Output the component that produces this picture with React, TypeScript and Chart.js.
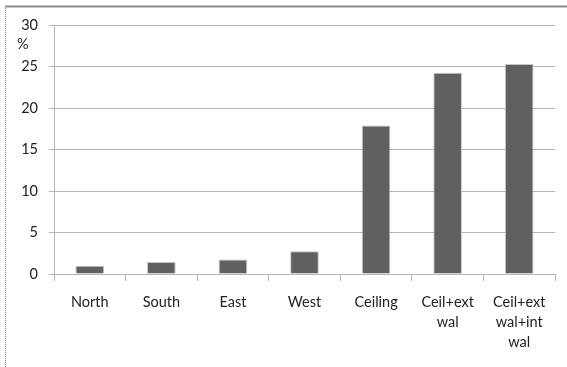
import React, { useEffect, useRef } from "react";
import { Chart, registerables } from "chart.js";

Chart.register(...registerables);

const categories: (string | string[])[] = [
  "North",
  "South",
  "East",
  "West",
  "Ceiling",
  ["Ceil+ext", "wal"],
  ["Ceil+ext", "wal+int", "wal"],
];
const percentValues = [1.0, 1.45, 1.75, 2.75, 17.9, 24.25, 25.3];
const yTicks = [0, 5, 10, 15, 20, 25, 30];

const FONT = "Lato, 'Liberation Sans', sans-serif";
const GRID = "#b4b4b4";

// Frame lines along the top and left edge plus the "%" unit label
const framePlugin = {
  id: "frame",
  beforeDraw(chart: Chart) {
    const ctx = chart.ctx;
    ctx.save();
    ctx.strokeStyle = "#8a8a8a";
    ctx.lineWidth = 2;
    ctx.beginPath();
    ctx.moveTo(5, 6.5);
    ctx.lineTo(chart.width, 6.5);
    ctx.stroke();
    ctx.lineWidth = 1;
    ctx.setLineDash([1, 1]);
    ctx.strokeStyle = "#8a8a8a";
    ctx.beginPath();
    ctx.moveTo(5.5, 6);
    ctx.lineTo(5.5, chart.height);
    ctx.stroke();
    ctx.restore();
  },
  afterDraw(chart: Chart) {
    const ctx = chart.ctx;
    ctx.save();
    ctx.fillStyle = "#222";
    ctx.font = `14.5px ${FONT}`;
    ctx.textAlign = "left";
    ctx.textBaseline = "middle";
    ctx.fillText("%", 17, 44);
    ctx.restore();
  },
};

export default function App() {
  const canvasRef = useRef<HTMLCanvasElement | null>(null);

  useEffect(() => {
    document.body.style.margin = "0";
    const canvas = canvasRef.current;
    if (!canvas) return;
    const chart = new Chart(canvas, {
      type: "bar",
      data: {
        labels: categories,
        datasets: [
          {
            data: percentValues,
            backgroundColor: "#606060",
            borderColor: "#c4c4c4",
            borderWidth: 1,
            categoryPercentage: 1,
            barPercentage: 0.4,
          },
        ],
      },
      options: {
        animation: false,
        responsive: false,
        maintainAspectRatio: false,
        events: [],
        layout: { padding: { top: 25, right: 12, left: 0, bottom: 0 } },
        plugins: {
          legend: { display: false },
          tooltip: { enabled: false },
        },
        scales: {
          x: {
            offset: true,
            grid: {
              offset: true,
              drawOnChartArea: false,
              drawTicks: true,
              tickLength: 7,
              color: GRID,
            },
            border: { display: true, color: GRID },
            ticks: {
              color: "#222",
              font: { family: FONT, size: 14.5, lineHeight: 1.38 },
              padding: 11,
              maxRotation: 0,
              autoSkip: false,
            },
            afterFit(scale: any) {
              scale.height = 93;
            },
          },
          y: {
            min: 0,
            max: 30,
            afterBuildTicks(scale: any) {
              scale.ticks = yTicks.map((v) => ({ value: v }));
            },
            grid: {
              color: GRID,
              tickLength: 5,
              drawTicks: true,
            },
            border: { display: true, color: GRID },
            ticks: {
              color: "#222",
              font: { family: FONT, size: 14.5 },
              padding: 11,
            },
            afterFit(scale: any) {
              scale.width = 54;
            },
          },
        },
      },
      plugins: [framePlugin],
    });
    return () => chart.destroy();
  }, []);

  return (
    <div style={{ width: 567, height: 367, background: "#fff" }}>
      <canvas ref={canvasRef} width={567} height={367} />
    </div>
  );
}
